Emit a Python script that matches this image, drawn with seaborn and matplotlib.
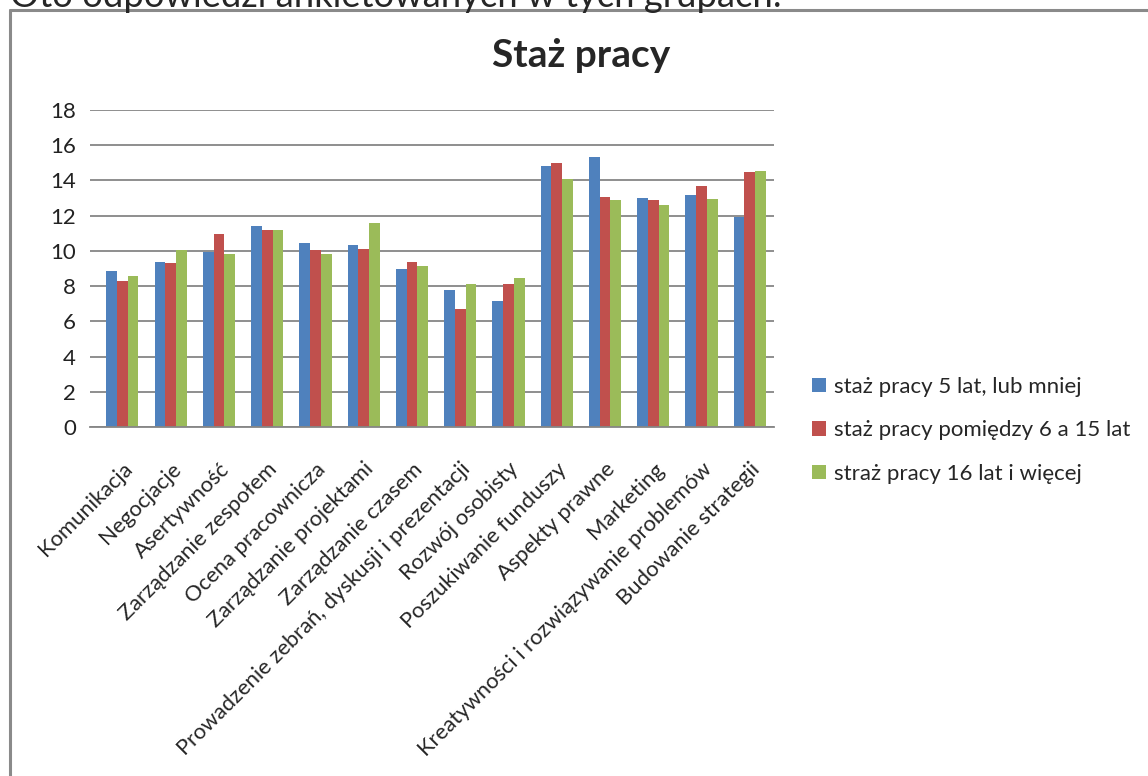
import numpy as np
import pandas as pd
import matplotlib
matplotlib.use("Agg")
import matplotlib.pyplot as plt
import seaborn as sns
from matplotlib.ticker import FixedLocator, MultipleLocator
from matplotlib.lines import Line2D

categories = ["Komunikacja", "Negocjacje", "Asertywność", "Zarządzanie zespołem",
              "Ocena pracownicza", "Zarządzanie projektami", "Zarządzanie czasem",
              "Prowadzenie zebrań, dyskusji i prezentacji", "Rozwój osobisty",
              "Poszukiwanie funduszy", "Aspekty prawne", "Marketing",
              "Kreatywności i rozwiązywanie problemów", "Budowanie strategii"]
series_names = ["staż pracy 5 lat, lub mniej", "staż pracy pomiędzy 6 a 15 lat",
                "straż pracy 16 lat i więcej"]
s1 = [8.85, 9.36, 9.94, 11.40, 10.43, 10.32, 8.96, 7.77, 7.15, 14.80, 15.31, 12.99, 13.16, 11.93]
s2 = [8.28, 9.30, 10.94, 11.17, 10.04, 10.09, 9.36, 6.69, 8.11, 14.97, 13.04, 12.87, 13.67, 14.46]
s3 = [8.56, 10.04, 9.81, 11.17, 9.81, 11.57, 9.13, 8.11, 8.45, 14.06, 12.87, 12.59, 12.93, 14.52]
colors = ["#4F81BD", "#C0504D", "#9BBB59"]
title = "Staż pracy"
top_text = "Oto odpowiedzi ankietowanych w tych grupach:"

df = pd.DataFrame({
    "kategoria": categories * 3,
    "seria": [series_names[0]] * 14 + [series_names[1]] * 14 + [series_names[2]] * 14,
    "wartosc": s1 + s2 + s3,
})

sns.set_style("white")
plt.rcParams["font.family"] = ["Lato", "DejaVu Sans"]

fig = plt.figure(figsize=(11.48, 7.76), dpi=100)
W, H = 1148, 776
ax = fig.add_axes([90 / W, 1 - 427 / H, (774 - 90) / W, (427 - 110) / H])

sns.barplot(data=df, x="kategoria", y="wartosc", hue="seria", order=categories,
            hue_order=series_names, palette=colors, width=0.667, saturation=1,
            linewidth=0, ax=ax, legend=True)

ax.set_ylim(0, 18)
ax.set_xlim(-0.67, 13.5)
ax.yaxis.set_major_locator(MultipleLocator(2))
ax.grid(axis="y", color="#868686", linewidth=1.3)
ax.set_axisbelow(True)
for s in ["top", "right", "left"]:
    ax.spines[s].set_visible(False)
ax.spines["bottom"].set_color("#868686")
ax.spines["bottom"].set_linewidth(1.3)
ax.set_xlabel("")
ax.set_ylabel("")
ax.tick_params(axis="y", length=0, pad=10, labelsize=16, labelcolor="#222222")
ax.set_xticks(range(len(categories)))
ax.set_xticklabels(categories, rotation=45, ha="right", va="top",
                   rotation_mode="anchor", fontsize=15.8)
ax.tick_params(axis="x", which="major", length=0, pad=23)
ax.xaxis.set_minor_locator(FixedLocator(np.arange(0.5, 13, 1.0)))
ax.tick_params(axis="x", which="minor", length=6, width=1.3, color="#868686",
               direction="out")

handles, labels = ax.get_legend_handles_labels()
ax.legend(handles, labels, loc="upper left", bbox_to_anchor=(812 / W, 1 - 377 / H),
          bbox_transform=fig.transFigure, frameon=False, fontsize=16,
          handlelength=0.62, handleheight=0.62, handletextpad=0.35,
          labelspacing=1.05, borderaxespad=0, borderpad=0)

fig.text(581 / W, 1 - 67 / H, title, ha="center", va="baseline",
         fontsize=28, fontweight="bold")
fig.text(10 / W, 1 - 7 / H, top_text, ha="left", va="baseline", fontsize=26.2)

fig.add_artist(Line2D([10 / W, 1], [1 - 10 / H, 1 - 10 / H], transform=fig.transFigure,
                      color="#8a8a8a", linewidth=2.2))
fig.add_artist(Line2D([10 / W, 10 / W], [0, 1 - 10 / H], transform=fig.transFigure,
                      color="#8a8a8a", linewidth=2.2))

fig.savefig("out.png", dpi=100)
